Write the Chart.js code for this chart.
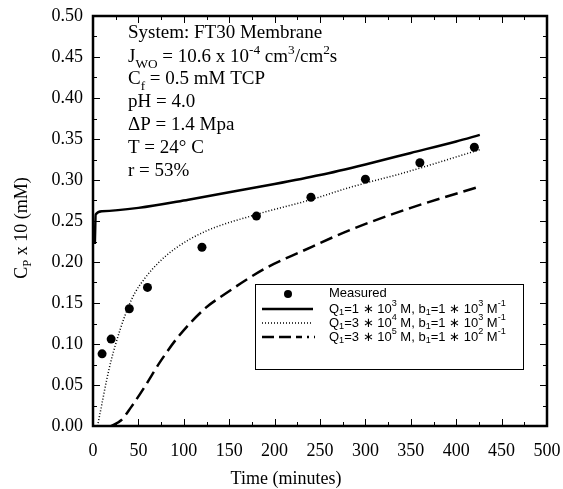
<!DOCTYPE html>
<html>
<head>
<meta charset="utf-8">
<script src="https://cdn.jsdelivr.net/npm/chart.js@4.4.0/dist/chart.umd.min.js"></script>
<style>
  html, body { margin: 0; padding: 0; background: #fff; }
  #wrap { width: 563px; height: 489px; }
</style>
</head>
<body>
<div id="wrap"><canvas id="myChart" width="563" height="489"></canvas></div>
<script>
// Measured permeate concentration
var measuredTime = [10, 20, 40, 60, 120, 180, 240, 300, 360, 420];
var measuredCp = [0.088, 0.106, 0.143, 0.169, 0.218, 0.256, 0.279, 0.301, 0.321, 0.340];

// Model curve: Q1=1e3, b1=1e3 (solid)
var solidTime = [2, 3, 10, 50, 105, 150, 200, 250, 300, 350, 400, 426];
var solidCp = [0.222, 0.258, 0.262, 0.266, 0.276, 0.285, 0.295, 0.306, 0.319, 0.333, 0.347, 0.355];

// Model curve: Q1=3e4, b1=1e3 (dotted)
var dottedTime = [5, 10, 15, 20, 25, 30, 35, 40, 46, 57, 72, 90, 123, 180, 240, 283, 340, 426];
var dottedCp = [0.0, 0.028, 0.056, 0.080, 0.100, 0.118, 0.134, 0.148, 0.162, 0.180, 0.199, 0.216, 0.237, 0.258, 0.276, 0.291, 0.308, 0.337];

// Model curve: Q1=3e5, b1=1e2 (dashed)
var dashedTime = [20, 31, 42, 57, 75, 94, 124, 140, 191, 230, 283, 350, 426];
var dashedCp = [0.0, 0.007, 0.023, 0.048, 0.080, 0.109, 0.144, 0.157, 0.193, 0.213, 0.239, 0.266, 0.292];

// Axis ticks
var xTicks = [0, 50, 100, 150, 200, 250, 300, 350, 400, 450, 500];
var yTicks = [0.00, 0.05, 0.10, 0.15, 0.20, 0.25, 0.30, 0.35, 0.40, 0.45, 0.50];

function pts(xs, ys) {
    return xs.map(function(x, i) { return { x: x, y: ys[i] }; });
}

var serif = '"Liberation Serif", "Times New Roman", serif';
var sans = '"Liberation Sans", Arial, sans-serif';

// Draw text made of normal / sub / sup pieces
function richText(ctx, x, y, parts, size, family) {
    parts.forEach(function(p) {
        var s = size, dy = 0;
        if (p[1] === 'sub') { s = size * 0.7; dy = size * 0.3; }
        if (p[1] === 'sup') { s = size * 0.7; dy = -size * 0.4; }
        ctx.font = s + 'px ' + family;
        ctx.fillText(p[0], x, y + dy);
        x += ctx.measureText(p[0]).width;
    });
    return x;
}

// Frame, inward ticks, notes, legend and axis titles
var decorPlugin = {
    id: 'decor',
    afterDraw: function(chart) {
        var ctx = chart.ctx;
        var xs = chart.scales.x, ys = chart.scales.y;
        var L = xs.left, R = xs.right, T = ys.top, B = ys.bottom;
        ctx.save();
        ctx.strokeStyle = '#000';
        ctx.fillStyle = '#000';

        // ticks on all four sides
        ctx.lineWidth = 1;
        ctx.beginPath();
        for (var v = 0; v <= 500; v += 25) {
            var px = Math.round(xs.getPixelForValue(v)) + 0.5;
            var len = (v % 50 === 0) ? 7 : 4;
            ctx.moveTo(px, B); ctx.lineTo(px, B - len);
            ctx.moveTo(px, T); ctx.lineTo(px, T + len);
        }
        for (var k = 0; k <= 20; k++) {
            var py = Math.round(ys.getPixelForValue(k * 0.025)) + 0.5;
            var l2 = (k % 2 === 0) ? 7 : 4;
            ctx.moveTo(L, py); ctx.lineTo(L + l2, py);
            ctx.moveTo(R, py); ctx.lineTo(R - l2, py);
        }
        ctx.stroke();

        // frame
        ctx.lineWidth = 2.5;
        ctx.strokeRect(L, T, R - L, B - T);

        // notes block
        ctx.textBaseline = 'alphabetic';
        ctx.textAlign = 'left';
        var fs = 19, nx = 128;
        richText(ctx, nx, 38, [['System: FT30 Membrane', 'n']], fs, serif);
        richText(ctx, nx, 62, [['J', 'n'], ['WO', 'sub'], [' = 10.6 x 10', 'n'], ['-4', 'sup'], [' cm', 'n'], ['3', 'sup'], ['/cm', 'n'], ['2', 'sup'], ['s', 'n']], fs, serif);
        richText(ctx, nx, 84, [['C', 'n'], ['f', 'sub'], [' = 0.5 mM TCP', 'n']], fs, serif);
        richText(ctx, nx, 107, [['pH = 4.0', 'n']], fs, serif);
        richText(ctx, nx, 130, [['\u0394P = 1.4 Mpa', 'n']], fs, serif);
        richText(ctx, nx, 153, [['T = 24\u00b0 C', 'n']], fs, serif);
        richText(ctx, nx, 176, [['r = 53%', 'n']], fs, serif);

        // legend box
        ctx.lineWidth = 1;
        ctx.strokeRect(255.5, 284.5, 268, 85);
        var rows = [294, 309, 323, 337];
        ctx.beginPath();
        ctx.arc(288, rows[0], 4, 0, 2 * Math.PI);
        ctx.fill();
        ctx.lineWidth = 2.5;
        ctx.setLineDash([]);
        ctx.beginPath(); ctx.moveTo(262, rows[1]); ctx.lineTo(313, rows[1]); ctx.stroke();
        ctx.lineWidth = 1.5;
        ctx.setLineDash([1, 2]);
        ctx.beginPath(); ctx.moveTo(262, rows[2]); ctx.lineTo(313, rows[2]); ctx.stroke();
        ctx.lineWidth = 2.5;
        ctx.setLineDash([12, 5, 12, 5, 6, 5, 2, 5]);
        ctx.beginPath(); ctx.moveTo(262, rows[3]); ctx.lineTo(315, rows[3]); ctx.stroke();
        ctx.setLineDash([]);

        ctx.textBaseline = 'middle';
        var lfs = 13, lx = 329;
        richText(ctx, lx, rows[0] - 1, [['Measured', 'n']], lfs, sans);
        richText(ctx, lx, rows[1], [['Q', 'n'], ['1', 'sub'], ['=1 \u2217 10', 'n'], ['3', 'sup'], [' M, b', 'n'], ['1', 'sub'], ['=1 \u2217 10', 'n'], ['3', 'sup'], [' M', 'n'], ['-1', 'sup']], lfs, sans);
        richText(ctx, lx, rows[2], [['Q', 'n'], ['1', 'sub'], ['=3 \u2217 10', 'n'], ['4', 'sup'], [' M, b', 'n'], ['1', 'sub'], ['=1 \u2217 10', 'n'], ['3', 'sup'], [' M', 'n'], ['-1', 'sup']], lfs, sans);
        richText(ctx, lx, rows[3], [['Q', 'n'], ['1', 'sub'], ['=3 \u2217 10', 'n'], ['5', 'sup'], [' M, b', 'n'], ['1', 'sub'], ['=1 \u2217 10', 'n'], ['2', 'sup'], [' M', 'n'], ['-1', 'sup']], lfs, sans);

        // axis titles
        ctx.textBaseline = 'middle';
        ctx.textAlign = 'left';
        ctx.font = '18px ' + serif;
        var xt = 'Time (minutes)';
        ctx.fillText(xt, 286 - ctx.measureText(xt).width / 2, 479);

        ctx.translate(22, 228);
        ctx.rotate(-Math.PI / 2);
        var yParts = [['C', 'n'], ['P', 'sub'], [' x 10 (mM)', 'n']];
        var w = 0;
        yParts.forEach(function(p) {
            ctx.font = (p[1] === 'n' ? 18 : 12.6) + 'px ' + serif;
            w += ctx.measureText(p[0]).width;
        });
        richText(ctx, -w / 2, 0, yParts, 18, serif);
        ctx.restore();
    }
};

var ctx = document.getElementById('myChart').getContext('2d');

var myChart = new Chart(ctx, {
    type: 'scatter',
    data: {
        datasets: [{
            label: 'Measured',
            data: pts(measuredTime, measuredCp),
            showLine: false,
            pointRadius: 4.5,
            pointBackgroundColor: '#000',
            pointBorderColor: '#000',
            pointBorderWidth: 0,
            order: 0
        }, {
            label: 'Q1=1e3, b1=1e3',
            data: pts(solidTime, solidCp),
            showLine: true,
            borderColor: '#000',
            borderWidth: 2.5,
            pointRadius: 0,
            cubicInterpolationMode: 'monotone'
        }, {
            label: 'Q1=3e4, b1=1e3',
            data: pts(dottedTime, dottedCp),
            showLine: true,
            borderColor: '#000',
            borderWidth: 1.5,
            borderDash: [1, 2],
            pointRadius: 0,
            cubicInterpolationMode: 'monotone'
        }, {
            label: 'Q1=3e5, b1=1e2',
            data: pts(dashedTime, dashedCp),
            showLine: true,
            borderColor: '#000',
            borderWidth: 2.5,
            borderDash: [13, 6],
            pointRadius: 0,
            cubicInterpolationMode: 'monotone'
        }]
    },
    options: {
        responsive: false,
        animation: false,
        layout: { padding: { left: 0, top: 16, right: 16, bottom: 0 } },
        scales: {
            x: {
                type: 'linear',
                min: 0,
                max: 500,
                afterFit: function(s) { s.height = 63; s.paddingLeft = 0; s.paddingRight = 0; },
                afterBuildTicks: function(s) { s.ticks = xTicks.map(function(v) { return { value: v }; }); },
                grid: { display: false, drawTicks: false },
                border: { display: false },
                ticks: {
                    color: '#000',
                    padding: 14,
                    maxRotation: 0,
                    font: { family: serif, size: 18 }
                }
            },
            y: {
                type: 'linear',
                min: 0,
                max: 0.5,
                afterFit: function(s) { s.width = 93; s.paddingTop = 0; s.paddingBottom = 0; },
                afterBuildTicks: function(s) { s.ticks = yTicks.map(function(v) { return { value: v }; }); },
                grid: { display: false, drawTicks: false },
                border: { display: false },
                ticks: {
                    color: '#000',
                    padding: 10,
                    font: { family: serif, size: 18 },
                    callback: function(v) { return Number(v).toFixed(2); }
                }
            }
        },
        plugins: {
            legend: { display: false },
            tooltip: { enabled: false }
        }
    },
    plugins: [decorPlugin]
});
</script>
</body>
</html>
